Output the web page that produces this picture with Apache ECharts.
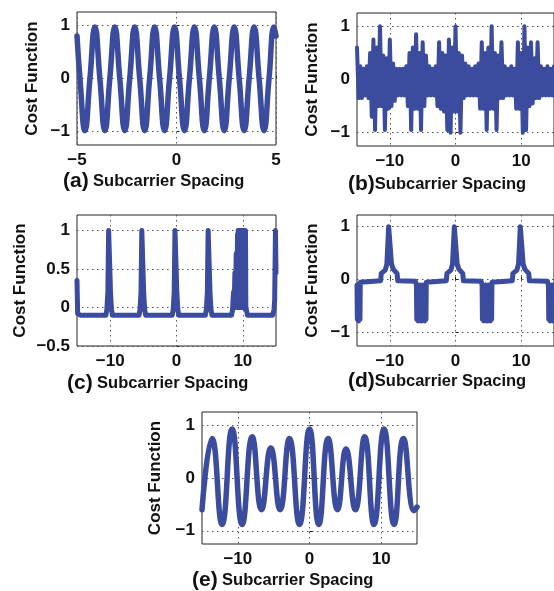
<!DOCTYPE html>
<html><head><meta charset="utf-8">
<script src="https://cdn.jsdelivr.net/npm/echarts@6/dist/echarts.min.js"></script>
<style>html,body{margin:0;padding:0;background:#fff}#c{width:554px;height:591px}</style>
</head><body><div id="c"></div><script>
// ---- data ----
const panelLetters = ['(a)', '(b)', '(c)', '(d)', '(e)'];
const xTitle = 'Subcarrier Spacing';
const yTitle = 'Cost Function';

const xTicksA = [-5, 0, 5];
const xTicksWide = [-10, 0, 10];
const yTicks = [-1, 0, 1];
const yTicksC = [-0.5, 0, 0.5, 1];

// (a)
const xA = [-5, -4.85, -4.6, -4.35, -4.1, -3.85, -3.6, -3.35, -3.1, -2.85, -2.6, -2.35, -2.1, -1.85, -1.6, -1.35, -1.1, -0.85, -0.6, -0.35, -0.1, 0.15, 0.4, 0.65, 0.9, 1.15, 1.4, 1.65, 1.9, 2.15, 2.4, 2.65, 2.9, 3.15, 3.4, 3.65, 3.9, 4.15, 4.4, 4.65, 4.9, 5];
const yA = [0.8, 0, -0.98, 0, 0.97, 0, -0.98, 0, 0.97, 0, -0.98, 0, 0.97, 0, -0.98, 0, 0.97, 0, -0.98, 0, 0.97, 0, -0.98, 0, 0.97, 0, -0.98, 0, 0.97, 0, -0.98, 0, 0.97, 0, -0.98, 0, 0.97, 0, -0.98, 0, 0.97, 0.8];

// (b)
const xB = [-15,-14.75,-14.5,-14.25,-14,-13.75,-13.5,-13.25,-13,-12.75,-12.5,-12.25,-12,-11.75,-11.5,-11.25,-11,-10.75,-10.5,-10.25,-10,-9.75,-9.5,-9.25,-9,-8.75,-8.5,-8.25,-8,-7.75,-7.5,-7.25,-7,-6.75,-6.5,-6.25,-6,-5.75,-5.5,-5.25,-5,-4.75,-4.5,-4.25,-4,-3.75,-3.5,-3.25,-3,-2.75,-2.5,-2.25,-2,-1.75,-1.5,-1.25,-1,-0.75,-0.5,-0.25,0,0.25,0.5,0.75,1,1.25,1.5,1.75,2,2.25,2.5,2.75,3,3.25,3.5,3.75,4,4.25,4.5,4.75,5,5.25,5.5,5.75,6,6.25,6.5,6.75,7,7.25,7.5,7.75,8,8.25,8.5,8.75,9,9.25,9.5,9.75,10,10.25,10.5,10.75,11,11.25,11.5,11.75,12,12.25,12.5,12.75,13,13.25,13.5,13.75,14,14.25,14.5,14.75,15];
const yB = [0.6,-0.35,0.25,-0.35,0.2,-0.3,0.25,-0.35,0.5,-0.7,
  0.75,-0.95,0.6,-0.5,1.0,-0.5,0.45,-0.95,0.4,-0.55,
  0.75,-0.5,0.3,-0.4,0.2,-0.3,0.2,-0.3,0.2,-0.3,
  0.25,-0.5,0.5,-0.95,0.6,-0.55,0.85,-0.55,0.5,-0.95,
  0.7,-0.5,0.45,-0.3,0.25,-0.3,0.2,-0.3,0.25,-0.5,
  0.7,-0.55,0.5,-0.6,0.45,-0.95,0.75,-1.0,0.6,-0.6,
  1.0,-0.6,0.5,-1.0,0.45,-0.35,0.3,-0.3,0.25,-0.3,
  0.2,-0.3,0.25,-0.3,0.3,-0.55,0.7,-0.55,0.5,-0.95,
  0.6,-0.55,1.0,-0.55,0.5,-0.95,0.45,-0.35,0.7,-0.35,
  0.25,-0.3,0.2,-0.3,0.25,-0.3,0.2,-0.55,0.7,-0.55,
  0.5,-1.0,1.0,-0.95,0.6,-0.5,0.7,-0.45,0.4,-0.35,
  0.7,-0.35,0.25,-0.3,0.2,-0.3,0.25,-0.3,0.2,-0.3,
  0.25];

// (c)
const xC = [-15,-14.9,-14.5,
  -10.65,-10.5,-10.35,-10.23,-10.07,-9.95,-9.8,-9.65,
  -5.65,-5.5,-5.35,-5.23,-5.07,-4.95,-4.8,-4.65,
  -0.65,-0.5,-0.35,-0.23,-0.07,0.05,0.2,0.35,
  4.35,4.5,4.65,4.77,4.93,5.05,5.2,5.35,
  8.3,8.45,8.5,8.6,8.7,8.8,8.9,9.0,9.1,9.2,
  9.25,9.3,9.35,9.4,9.45,9.5,9.55,9.6,9.65,9.7,9.75,9.8,9.85,9.9,9.95,10.0,10.05,10.1,10.15,10.2,10.25,10.3,10.35,10.4,
  10.45,10.55,10.7,
  14.5,14.7,14.8,14.92,15];
const yC = [0.35,-0.08,-0.1,
  -0.1,-0.03,0.2,1.0,1.0,0.2,-0.03,-0.1,
  -0.1,-0.03,0.2,1.0,1.0,0.2,-0.03,-0.1,
  -0.1,-0.03,0.2,1.0,1.0,0.2,-0.03,-0.1,
  -0.1,-0.03,0.2,1.0,1.0,0.2,-0.03,-0.1,
  -0.1,-0.03,0.05,0.2,0.0,0.45,0.0,0.7,0.0,0.95,
  0.0,1.0,0.0,1.0,0.0,1.0,0.0,1.0,0.0,1.0,0.0,1.0,0.0,1.0,0.0,1.0,0.0,1.0,0.0,1.0,0.0,1.0,0.0,1.0,
  0.0,-0.04,-0.1,
  -0.1,-0.03,0.1,1.0,0.45];

// (d)
const xD = [-15,-14.95,-14.85,-14.75,-14.65,-14.55,-14.5,-14.2,
  -11.4,-11.3,-10.7,-10.45,-10.18,-10.02,-9.75,-9.5,-8.9,-8.8,
  -6.1,-5.95,-5.9,-5.8,-5.7,-5.6,-5.5,-5.4,-5.3,-5.2,-5.1,-5.0,-4.9,-4.8,-4.7,-4.6,-4.5,-4.45,-4.2,
  -1.4,-1.3,-0.7,-0.45,-0.18,-0.02,0.25,0.5,1.1,1.2,
  3.9,4.05,4.1,4.2,4.3,4.4,4.5,4.6,4.7,4.8,4.9,5.0,5.1,5.2,5.3,5.4,5.5,5.55,5.8,
  8.65,8.75,9.35,9.6,9.87,10.03,10.3,10.55,11.15,11.25,
  14.0,14.15,14.2,14.3,14.4,14.5,14.6,14.7,14.8,14.9,15];
const yD = [-0.1,-0.75,-0.15,-0.78,-0.15,-0.75,-0.05,-0.03,
  -0.02,0.12,0.18,0.3,1.0,1.0,0.3,0.2,0.12,-0.02,
  -0.03,-0.1,-0.75,-0.1,-0.78,-0.15,-0.6,-0.1,-0.78,-0.15,-0.78,-0.1,-0.62,-0.15,-0.78,-0.1,-0.75,-0.05,-0.02,
  -0.02,0.12,0.18,0.3,1.0,1.0,0.3,0.2,0.12,-0.02,
  -0.03,-0.1,-0.75,-0.1,-0.78,-0.15,-0.6,-0.1,-0.78,-0.15,-0.78,-0.1,-0.62,-0.15,-0.78,-0.1,-0.75,-0.05,-0.02,
  -0.02,0.12,0.18,0.3,1.0,1.0,0.3,0.2,0.12,-0.02,
  -0.03,-0.1,-0.75,-0.1,-0.78,-0.15,-0.6,-0.1,-0.78,-0.15,-0.7];

// (e)
const xE = [-15, -13.6, -12.2, -10.8, -9.4, -8.0, -6.7, -5.4, -4.1, -2.8, -1.4, 0.0, 1.3, 2.6, 3.9, 5.1, 6.4, 7.7, 9.0, 10.4, 11.8, 13.1, 14.6, 15];
const yE = [-0.6, 0.75, -0.88, 0.93, -0.88, 0.78, -0.6, 0.57, -0.6, 0.75, -0.88, 0.93, -0.88, 0.75, -0.6, 0.55, -0.6, 0.78, -0.88, 0.93, -0.88, 0.75, -0.62, -0.55];

// ---- layout / style ----
const FONT = '"Liberation Sans", Arial, Helvetica, sans-serif';
const LINE = '#3b4b9e';
const INK = '#111';
const grids = [
  {left: 77, top: 12, width: 199, height: 133},
  {left: 357, top: 13, width: 200, height: 133},
  {left: 77, top: 215, width: 199, height: 131},
  {left: 357, top: 215, width: 200, height: 131},
  {left: 202, top: 412, width: 215, height: 132}
];
const panels = [
  {x: xA, y: yA, xr: [-5, 5], xt: xTicksA, yr: [-1.25, 1.25], yt: yTicks, smooth: true, w: 5.5, gap: 36},
  {x: xB, y: yB, xr: [-15, 15], xt: xTicksWide, yr: [-1.25, 1.25], yt: yTicks, smooth: false, w: 4, gap: 36},
  {x: xC, y: yC, xr: [-15, 15], xt: xTicksWide, yr: [-0.5, 1.2], yt: yTicksC, smooth: false, w: 5, gap: 48},
  {x: xD, y: yD, xr: [-15, 15], xt: xTicksWide, yr: [-1.25, 1.22], yt: yTicks, smooth: false, w: 5, gap: 36},
  {x: xE, y: yE, xr: [-15, 15], xt: xTicksWide, yr: [-1.25, 1.25], yt: yTicks, smooth: true, w: 5.5, gap: 38}
];
const titlePos = [[63, 181], [348, 184], [67, 383], [348, 381], [192, 580]];
const sep = [' ', '', ' ', '', ' '];

function fmt(v) {
  return v < 0 ? '\u2212' + Math.abs(v) : String(v);
}
const splitStyle = {show: true, lineStyle: {color: '#555', width: 1, type: [1.5, 3.5]}};

const option = {
  animation: false,
  backgroundColor: '#fff',
  grid: grids.map(g => Object.assign({show: true, borderColor: '#222', borderWidth: 1, backgroundColor: '#fff', containLabel: false}, g)),
  xAxis: panels.map((p, i) => ({
    type: 'value', gridIndex: i, min: p.xr[0], max: p.xr[1],
    axisLine: {show: false},
    axisTick: {show: true, inside: true, length: 3, customValues: p.xt, lineStyle: {color: '#222'}},
    axisLabel: {customValues: p.xt, formatter: fmt, fontFamily: FONT, fontWeight: 'bold', fontSize: 17, color: INK, margin: 7},
    splitLine: splitStyle
  })),
  yAxis: panels.map((p, i) => ({
    type: 'value', gridIndex: i, min: p.yr[0], max: p.yr[1],
    axisLine: {show: false},
    axisTick: {show: true, inside: true, length: 3, customValues: p.yt, lineStyle: {color: '#222'}},
    axisLabel: {customValues: p.yt, formatter: fmt, fontFamily: FONT, fontWeight: 'bold', fontSize: 17, color: INK, margin: 7},
    splitLine: splitStyle,
    name: yTitle, nameLocation: 'middle', nameRotate: 90, nameGap: p.gap,
    nameTextStyle: {fontFamily: FONT, fontWeight: 'bold', fontSize: 17, color: INK}
  })),
  series: panels.map((p, i) => ({
    type: 'line', xAxisIndex: i, yAxisIndex: i,
    data: p.x.map((xv, k) => [xv, p.y[k]]),
    symbol: 'none', smooth: p.smooth, clip: true,
    lineStyle: {color: LINE, width: p.w, join: 'round', cap: 'round'}
  })),
  graphic: panelLetters.map((L, i) => ({
    type: 'text', x: titlePos[i][0], y: titlePos[i][1],
    style: {
      text: '{p|' + L + '}' + sep[i] + '{s|' + xTitle + '}',
      verticalAlign: 'middle', align: 'left',
      font: 'bold 16px ' + FONT, fill: INK,
      rich: {
        p: {fontFamily: FONT, fontWeight: 'bold', fontSize: 21, fill: INK},
        s: {fontFamily: FONT, fontWeight: 'bold', fontSize: 16.5, fill: INK}
      }
    }
  }))
};
const chart = echarts.init(document.getElementById('c'), null, {renderer: 'canvas'});
chart.setOption(option);
</script></body></html>
